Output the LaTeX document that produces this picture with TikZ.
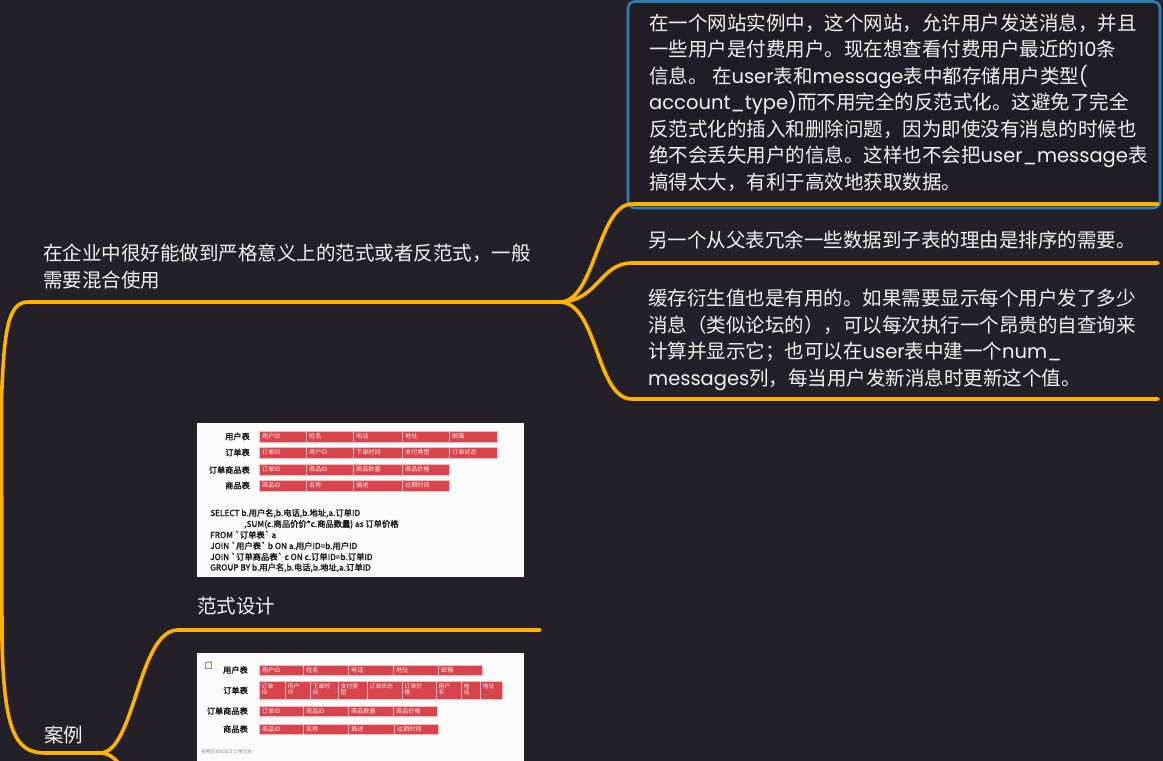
\documentclass[tikz,border=0pt]{standalone}
\usepackage{fontspec}
\setmainfont[AutoFakeBold=2]{Noto Sans CJK SC}
\newfontfamily\lat{Poppins}
\definecolor{bg}{HTML}{242027}
\definecolor{orx}{HTML}{FFB300}
\definecolor{boxblue}{HTML}{2F7FB5}
\definecolor{boxfill}{HTML}{211D24}
\definecolor{txt}{HTML}{F2F2F2}
\definecolor{cellred}{HTML}{D9434C}
\definecolor{panel}{HTML}{FBFBFB}
\tikzset{
  branch/.style={draw=orx, line width=3.6pt, line cap=round},
  maintext/.style={text=txt, font=\fontsize{19.5}{26}\selectfont, anchor=base west, inner sep=0pt},
  cellbox/.style={fill=cellred, draw=white!65!cellred, line width=0.5pt},
  celltext/.style={text=white!92!cellred, font=\fontsize{6.1}{6.6}\selectfont, anchor=west, inner sep=0pt, align=left},
  celltextb/.style={text=white!92!cellred, font=\fontsize{5.8}{6.8}\selectfont, anchor=north west, inner sep=0pt, align=left},
  tablbl/.style={text=black!90, font=\bfseries\fontsize{8.2}{9}\selectfont, anchor=east, inner sep=0pt},
  sqltext/.style={text=black!90, font=\bfseries\fontsize{8.3}{10}\selectfont, anchor=base west, inner sep=0pt},
}
\begin{document}
\begin{tikzpicture}[x=1pt,y=-1pt]
\path[use as bounding box] (0,0) rectangle (1163,761);
\clip (0,0) rectangle (1163,761);
\fill[bg] (0,0) rectangle (1163,761);

% top box
\draw[draw=boxblue, line width=2.6pt, fill=boxfill, rounded corners=7pt] (628,1.5) rectangle (1160,208);

% branch coordinates
\coordinate (hub) at (560,302);
\coordinate (lcorner) at (28,302);
\coordinate (topend) at (1158,204);
\coordinate (midend) at (1158,263);
\coordinate (botend) at (1158,399);
\coordinate (caseL) at (45,753);
\coordinate (caseR) at (100,753);
\coordinate (fsend) at (540,630);

% orange connectors
\draw[branch] (hub) .. controls (595,302) and (598,204) .. (632,204) -- (topend);
\draw[branch] (hub) .. controls (598,301) and (600,263) .. (632,263) -- (midend);
\draw[branch] (hub) .. controls (598,303) and (596,399) .. (632,399) -- (botend);
\draw[branch] (hub) -- (lcorner) .. controls (8,302) and (4,330) .. (1.5,400) -- (2,640) .. controls (4,730) and (15,753) .. (caseL) -- (caseR);
\draw[branch] (caseR) .. controls (135,753) and (138,630) .. (178,630) -- (fsend);
\draw[branch] (caseR) .. controls (108,753) and (114,757) .. (121,766);

% top box text
\node[maintext] (t1) at (649,30) {在一个网站实例中，这个网站，允许用户发送消息，并且};
\node[maintext] (t2) at (649,56.5) {一些用户是付费用户。现在想查看付费用户最近的{\lat 10}条};
\node[maintext] (t3) at (649,83) {信息。\ 在{\lat user}表和{\lat message}表中都存储用户类型{\lat (}};
\node[maintext] (t4) at (649,109.5) {{\lat account\_type)}而不用完全的反范式化。这避免了完全};
\node[maintext] (t5) at (649,136) {反范式化的插入和删除问题，因为即使没有消息的时候也};
\node[maintext] (t6) at (649,162.5) {绝不会丢失用户的信息。这样也不会把{\lat user\_message}表};
\node[maintext] (t7) at (649,189) {搞得太大，有利于高效地获取数据。};

% middle text
\node[maintext] (m1) at (648,247.5) {另一个从父表冗余一些数据到子表的理由是排序的需要。};

% bottom text
\node[maintext] (b1) at (648,305.5) {缓存衍生值也是有用的。如果需要显示每个用户发了多少};
\node[maintext] (b2) at (648,332) {消息（类似论坛的），可以每次执行一个昂贵的自查询来};
\node[maintext] (b3) at (648,358.5) {计算并显示它；也可以在{\lat user}表中建一个{\lat num\_}};
\node[maintext] (b4) at (648,385) {{\lat messages}列，每当用户发新消息时更新这个值。};

% left text
\node[maintext] (l1) at (43,260.5) {在企业中很好能做到严格意义上的范式或者反范式，一般};
\node[maintext] (l2) at (43,287.5) {需要混合使用};
\node[maintext] (fs) at (197,613.5) {范式设计};
\node[maintext] (al) at (44,742.5) {案例};

% panel 1
\fill[panel] (197,423) rectangle (524,577);
\node[tablbl] (p1l1) at (250,436.5) {用户表};
\node[tablbl] (p1l2) at (250,452.5) {订单表};
\node[tablbl] (p1l3) at (250,470) {订单商品表};
\node[tablbl] (p1l4) at (250,485.5) {商品表};
\foreach \a/\b/\t in {259/306/用户ID,306/353/姓名,353/402/电话,402/449/地址,449/497/邮箱}{
  \draw[cellbox] (\a,431) rectangle (\b,442);
  \node[celltext] (pa\a) at (\a+3,436.5) {\t};
}
\foreach \a/\b/\t in {259/306/订单ID,306/353/用户ID,353/402/下单时间,402/449/支付类型,449/497/订单状态}{
  \draw[cellbox] (\a,447) rectangle (\b,458);
  \node[celltext] (pb\a) at (\a+3,452.5) {\t};
}
\foreach \a/\b/\t in {259/306/订单ID,306/353/商品ID,353/402/商品数量,402/449/商品价格}{
  \draw[cellbox] (\a,464) rectangle (\b,475);
  \node[celltext] (pc\a) at (\a+3,469.5) {\t};
}
\foreach \a/\b/\t in {259/306/商品ID,306/353/名称,353/402/描述,402/449/过期时间}{
  \draw[cellbox] (\a,480) rectangle (\b,491);
  \node[celltext] (pd\a) at (\a+3,485.5) {\t};
}
\node[sqltext] (s1) at (210,516) {SELECT b.用户名,b.电话,b.地址,a.订单ID};
\node[sqltext] (s2) at (244,527) {,SUM(c.商品价价*c.商品数量) as 订单价格};
\node[sqltext] (s3) at (210,538) {FROM \textasciigrave 订单表\textasciigrave\ a};
\node[sqltext] (s4) at (210,549) {JOIN \textasciigrave 用户表\textasciigrave\ b ON a.用户ID=b.用户ID};
\node[sqltext] (s5) at (210,560) {JOIN \textasciigrave 订单商品表\textasciigrave\ c ON c.订单ID=b.订单ID};
\node[sqltext] (s6) at (210,570.5) {GROUP BY b.用户名,b.电话,b.地址,a.订单ID};

% panel 2
\fill[panel] (197,653) rectangle (524,766);
\draw[black!45, line width=0.6pt] (205,662) rectangle (211,668);
\fill[orx!80!red] (211,662) circle (1.3pt);
\node[tablbl] (p2l1) at (248,670) {用户表};
\node[tablbl] (p2l2) at (248,690.5) {订单表};
\node[tablbl] (p2l3) at (248,711) {订单商品表};
\node[tablbl] (p2l4) at (248,729) {商品表};
\foreach \a/\b/\t in {259/303/用户ID,303/348/姓名,348/393/电话,393/438/地址,438/482/邮箱}{
  \draw[cellbox] (\a,665) rectangle (\b,675);
  \node[celltext] (qa\a) at (\a+3,670) {\t};
}
\foreach \a/\b/\t in {259/285/订单\\ID,285/310/用户\\ID,310/338/下单时\\间,338/367/支付类\\型,367/402/订单状态,402/436/订单价\\格,436/461/用户\\名,461/480/电\\话,480/502/地址}{
  \draw[cellbox] (\a,681) rectangle (\b,699);
  \node[celltextb] (qb\a) at (\a+2.5,683) {\t};
}
\foreach \a/\b/\t in {259/303/订单ID,303/348/商品ID,348/393/商品数量,393/437/商品价格}{
  \draw[cellbox] (\a,706) rectangle (\b,716);
  \node[celltext] (qc\a) at (\a+3,711) {\t};
}
\foreach \a/\b/\t in {259/303/商品ID,303/348/名称,348/394/描述,394/438/过期时间}{
  \draw[cellbox] (\a,724) rectangle (\b,734);
  \node[celltext] (qd\a) at (\a+3,729) {\t};
}
\node[text=black!45, font=\fontsize{4.6}{5}\selectfont, anchor=west, inner sep=0pt] (foot) at (201,752) {按照范式化设计订单冗余：};
\end{tikzpicture}
\end{document}
